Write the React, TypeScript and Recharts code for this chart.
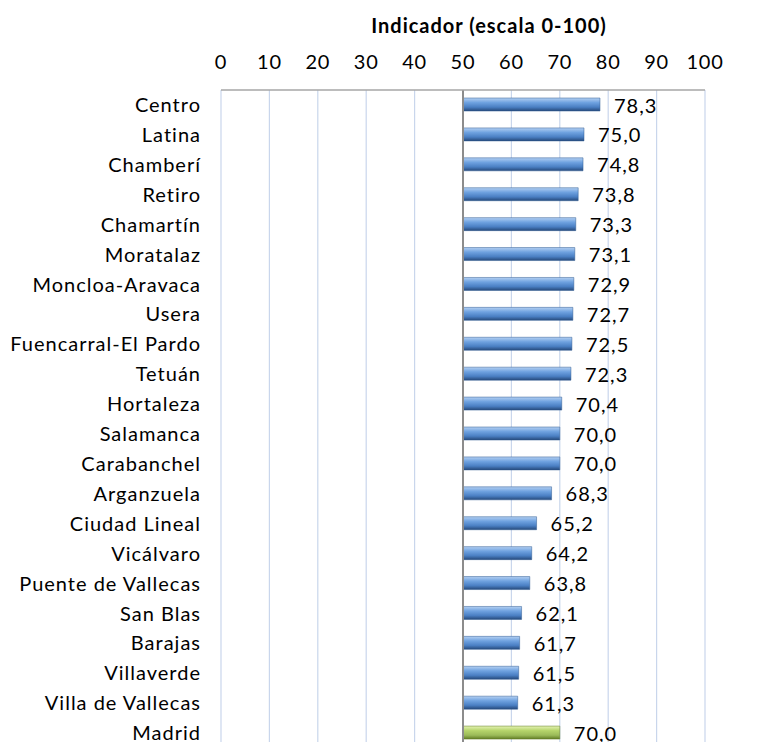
import * as React from 'react';
import { BarChart, Bar, XAxis, YAxis, CartesianGrid, ReferenceLine, LabelList, Cell } from 'recharts';

const districts = [
  'Centro', 'Latina', 'Chamberí', 'Retiro', 'Chamartín', 'Moratalaz', 'Moncloa-Aravaca',
  'Usera', 'Fuencarral-El Pardo', 'Tetuán', 'Hortaleza', 'Salamanca', 'Carabanchel',
  'Arganzuela', 'Ciudad Lineal', 'Vicálvaro', 'Puente de Vallecas', 'San Blas', 'Barajas',
  'Villaverde', 'Villa de Vallecas', 'Madrid',
];
const scores = [
  78.3, 75.0, 74.8, 73.8, 73.3, 73.1, 72.9, 72.7, 72.5, 72.3, 70.4, 70.0, 70.0,
  68.3, 65.2, 64.2, 63.8, 62.1, 61.7, 61.5, 61.3, 70.0,
];
const xTicks = [0, 10, 20, 30, 40, 50, 60, 70, 80, 90, 100];
const BASE = 50;
const title = 'Indicador (escala 0-100)';

const data = districts.map((name, i) => ({ name, range: [BASE, scores[i]], value: scores[i] }));

const font = 'Lato, sans-serif';

function ValueLabel(props: any) {
  const { x, y, width, height, index } = props;
  const v = scores[index];
  return (
    <text x={x + width + 14} y={y + height / 2 + 8} fontFamily={font} fontSize={20} letterSpacing={1} fill="#000">
      {v.toFixed(1).replace('.', ',')}
    </text>
  );
}

function TitleLabel(props: any) {
  const { viewBox } = props;
  const cx = viewBox.x + viewBox.width / 2 + 26;
  return (
    <text x={cx} y={33} textAnchor="middle" fontFamily={font} fontSize={20} fontWeight={700} letterSpacing={1} fill="#000">
      {title}
    </text>
  );
}

export default function App() {
  return (
    <div style={{ position: 'absolute', left: 0, top: 0, width: 777, height: 742, overflow: 'hidden', background: '#fff' }}>
      <BarChart
        width={777}
        height={742}
        layout="vertical"
        data={data}
        barSize={13}
        margin={{ top: 0, right: 72, bottom: -6, left: 0 }}
      >
        <defs>
          <linearGradient id="blueBar" x1="0" y1="0" x2="0" y2="1">
            <stop offset="0%" stopColor="#b4d0f2" />
            <stop offset="35%" stopColor="#6fa2e0" />
            <stop offset="70%" stopColor="#4a7fc3" />
            <stop offset="100%" stopColor="#26497a" />
          </linearGradient>
          <linearGradient id="greenBar" x1="0" y1="0" x2="0" y2="1">
            <stop offset="0%" stopColor="#e4f2b4" />
            <stop offset="35%" stopColor="#b5d46a" />
            <stop offset="70%" stopColor="#9bbb59" />
            <stop offset="100%" stopColor="#627c25" />
          </linearGradient>
        </defs>
        <CartesianGrid horizontal={false} stroke="#c9d6ec" strokeWidth={1.2} />
        <XAxis
          type="number"
          orientation="top"
          domain={[0, 100]}
          ticks={xTicks}
          interval={0}
          tickSize={0}
          tickMargin={21}
          axisLine={{ stroke: '#a6a6a6', strokeWidth: 1.5 }}
          tick={{ fontFamily: font, fontSize: 20, fill: '#000', letterSpacing: 0.8 }}
          height={90}
          label={<TitleLabel />}
        />
        <YAxis
          type="category"
          dataKey="name"
          width={221}
          interval={0}
          tickSize={0}
          tickMargin={20}
          axisLine={false}
          tickLine={false}
          tick={{ fontFamily: font, fontSize: 20, fill: '#000', letterSpacing: 1 }}
        />
        <ReferenceLine x={BASE} stroke="#8c8c8c" strokeWidth={2} />
        <Bar dataKey="range" isAnimationActive={false} fill="url(#blueBar)" stroke="#2f5a93" strokeWidth={0.5}>
          {data.map((d) => (
            <Cell key={d.name} fill={d.name === 'Madrid' ? 'url(#greenBar)' : 'url(#blueBar)'} stroke={d.name === 'Madrid' ? '#5f7a22' : '#2f5a93'} />
          ))}
          <LabelList dataKey="value" content={<ValueLabel />} />
        </Bar>
      </BarChart>
    </div>
  );
}
